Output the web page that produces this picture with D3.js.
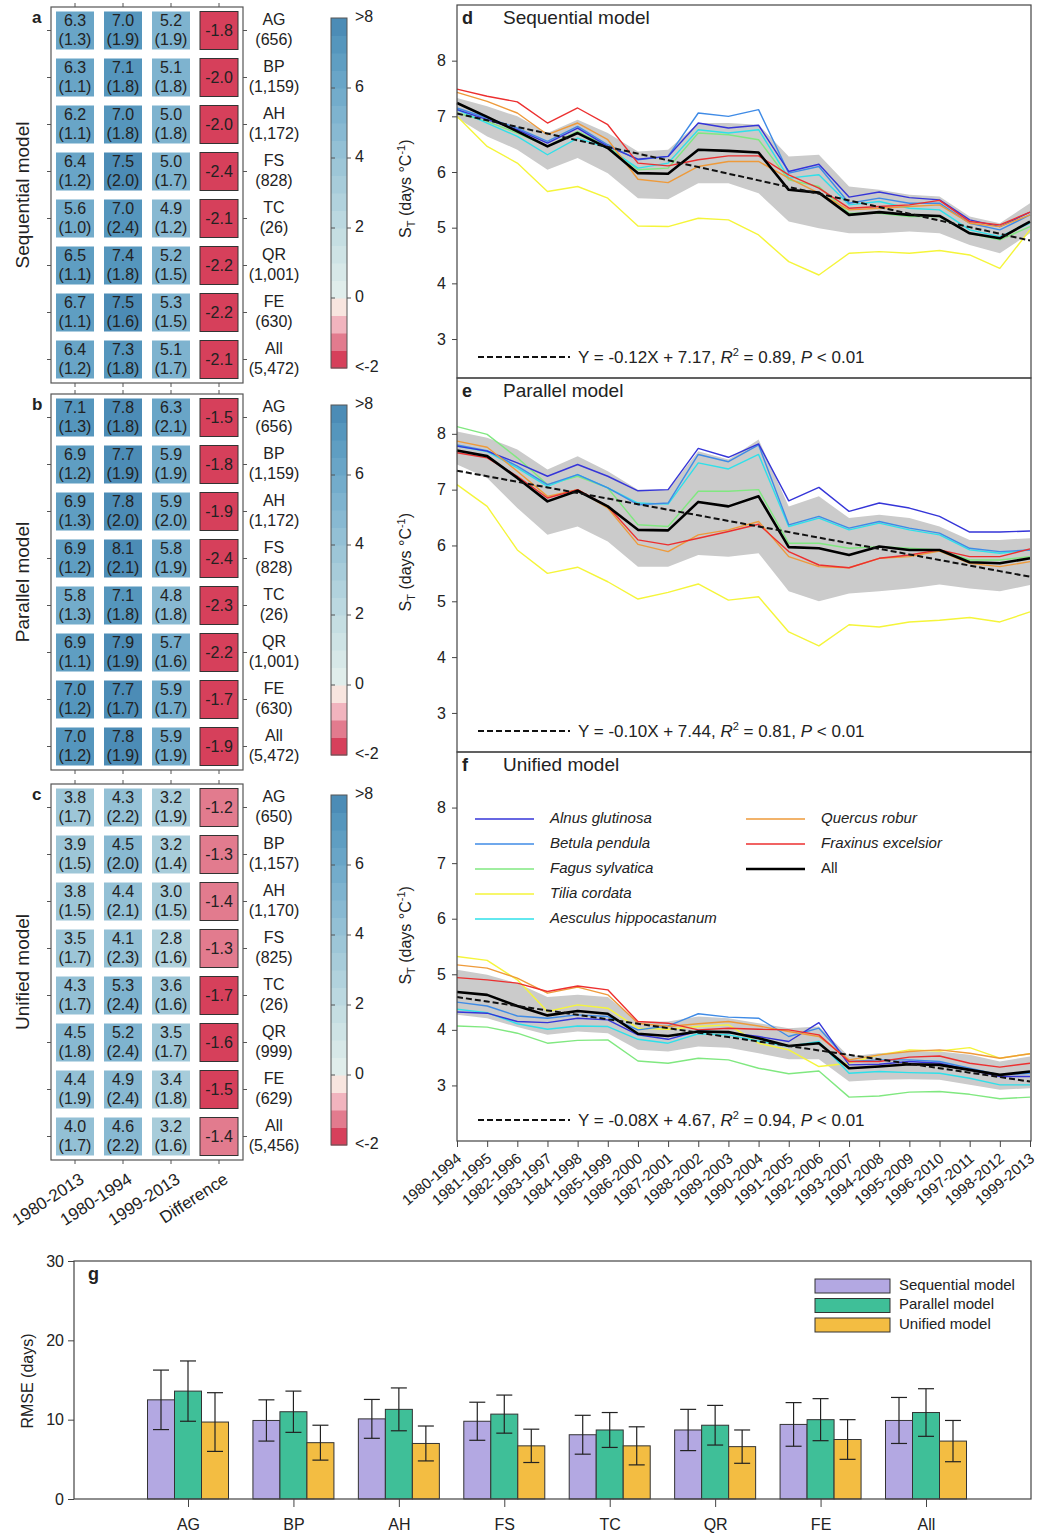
<!DOCTYPE html>
<html>
<head>
<meta charset="utf-8">
<script src="https://cdn.jsdelivr.net/npm/d3@7"></script>
<style>
  body { margin: 0; background: #fff; }
  svg { font-family: Arial, "Liberation Sans", sans-serif; }
</style>
</head>
<body>
<svg id="chart" width="1039" height="1536"></svg>
<script>
// ---------- data ----------
const sites = ["AG", "BP", "AH", "FS", "TC", "QR", "FE", "All"];
const columns = ["1980-2013", "1980-1994", "1999-2013", "Difference"];
const modelNames = ["Sequential model", "Parallel model", "Unified model"];

// panel a (sequential)
const seqMean = [[6.3, 7.0, 5.2], [6.3, 7.1, 5.1], [6.2, 7.0, 5.0], [6.4, 7.5, 5.0], [5.6, 7.0, 4.9], [6.5, 7.4, 5.2], [6.7, 7.5, 5.3], [6.4, 7.3, 5.1]];
const seqSd = [[1.3, 1.9, 1.9], [1.1, 1.8, 1.8], [1.1, 1.8, 1.8], [1.2, 2.0, 1.7], [1.0, 2.4, 1.2], [1.1, 1.8, 1.5], [1.1, 1.6, 1.5], [1.2, 1.8, 1.7]];
const seqDiff = [-1.8, -2.0, -2.0, -2.4, -2.1, -2.2, -2.2, -2.1];
const seqN = ["656", "1,159", "1,172", "828", "26", "1,001", "630", "5,472"];
// panel b (parallel)
const parMean = [[7.1, 7.8, 6.3], [6.9, 7.7, 5.9], [6.9, 7.8, 5.9], [6.9, 8.1, 5.8], [5.8, 7.1, 4.8], [6.9, 7.9, 5.7], [7.0, 7.7, 5.9], [7.0, 7.8, 5.9]];
const parSd = [[1.3, 1.8, 2.1], [1.2, 1.9, 1.9], [1.3, 2.0, 2.0], [1.2, 2.1, 1.9], [1.3, 1.8, 1.8], [1.1, 1.9, 1.6], [1.2, 1.7, 1.7], [1.2, 1.9, 1.9]];
const parDiff = [-1.5, -1.8, -1.9, -2.4, -2.3, -2.2, -1.7, -1.9];
const parN = ["656", "1,159", "1,172", "828", "26", "1,001", "630", "5,472"];
// panel c (unified)
const uniMean = [[3.8, 4.3, 3.2], [3.9, 4.5, 3.2], [3.8, 4.4, 3.0], [3.5, 4.1, 2.8], [4.3, 5.3, 3.6], [4.5, 5.2, 3.5], [4.4, 4.9, 3.4], [4.0, 4.6, 3.2]];
const uniSd = [[1.7, 2.2, 1.9], [1.5, 2.0, 1.4], [1.5, 2.1, 1.5], [1.7, 2.3, 1.6], [1.7, 2.4, 1.6], [1.8, 2.4, 1.7], [1.9, 2.4, 1.8], [1.7, 2.2, 1.6]];
const uniDiff = [-1.2, -1.3, -1.4, -1.3, -1.7, -1.6, -1.5, -1.4];
const uniN = ["650", "1,157", "1,170", "825", "26", "999", "629", "5,456"];

// panels d-f: 15-year moving windows
const windows = ["1980-1994", "1981-1995", "1982-1996", "1983-1997", "1984-1998", "1985-1999", "1986-2000",
  "1987-2001", "1988-2002", "1989-2003", "1990-2004", "1991-2005", "1992-2006", "1993-2007",
  "1994-2008", "1995-2009", "1996-2010", "1997-2011", "1998-2012", "1999-2013"];
const species = ["Alnus glutinosa", "Betula pendula", "Fagus sylvatica", "Tilia cordata",
  "Aesculus hippocastanum", "Quercus robur", "Fraxinus excelsior", "All"];
const speciesColors = ["#3535d8", "#3f8be6", "#80e880", "#f5f53a", "#2ee0ea", "#ee9a3a", "#ec2f2f", "#000000"];

// ST, sequential model (same order as species)
const seqLines = [
  [7.12, 6.94, 6.76, 6.52, 6.79, 6.46, 6.23, 6.28, 6.88, 6.79, 6.84, 6.01, 6.14, 5.55, 5.64, 5.54, 5.50, 5.14, 5.02, 5.28],
  [7.15, 6.97, 6.79, 6.55, 6.82, 6.49, 6.22, 6.28, 7.06, 7.00, 7.12, 5.98, 6.10, 5.44, 5.53, 5.44, 5.44, 5.08, 4.96, 5.23],
  [7.06, 6.91, 6.70, 6.46, 6.73, 6.46, 6.04, 6.07, 6.70, 6.67, 6.58, 5.86, 5.74, 5.26, 5.26, 5.20, 5.20, 4.90, 4.78, 5.02],
  [7.00, 6.46, 6.16, 5.65, 5.74, 5.53, 5.03, 5.02, 5.17, 5.14, 4.87, 4.39, 4.15, 4.54, 4.57, 4.54, 4.59, 4.51, 4.27, 4.96],
  [7.12, 6.88, 6.64, 6.31, 6.61, 6.43, 6.07, 6.16, 6.76, 6.70, 6.76, 5.89, 5.95, 5.41, 5.47, 5.35, 5.32, 4.96, 4.84, 5.08],
  [7.43, 7.27, 7.06, 6.67, 6.88, 6.58, 5.87, 5.81, 6.10, 6.19, 6.19, 5.89, 5.62, 5.32, 5.35, 5.38, 5.41, 5.08, 5.02, 5.23],
  [7.49, 7.36, 7.26, 6.88, 7.15, 6.85, 6.16, 6.11, 6.22, 6.29, 6.29, 5.95, 5.71, 5.35, 5.38, 5.41, 5.49, 5.11, 5.05, 5.28],
  [7.24, 6.99, 6.73, 6.46, 6.70, 6.43, 5.98, 5.97, 6.40, 6.38, 6.35, 5.68, 5.63, 5.23, 5.28, 5.23, 5.21, 4.90, 4.81, 5.11]
];
const seqBandHi = [7.33, 7.18, 7.00, 6.70, 6.94, 6.70, 6.37, 6.40, 6.88, 6.88, 6.85, 6.28, 6.31, 5.74, 5.68, 5.59, 5.56, 5.20, 5.08, 5.44];
const seqBandLo = [6.97, 6.64, 6.40, 6.04, 6.25, 5.98, 5.53, 5.51, 5.80, 5.80, 5.62, 5.11, 4.99, 4.90, 4.90, 4.93, 4.90, 4.69, 4.54, 4.90];

// ST, parallel model
const parLines = [
  [7.78, 7.69, 7.48, 7.24, 7.45, 7.24, 6.98, 7.00, 7.74, 7.58, 7.82, 6.80, 7.04, 6.61, 6.76, 6.67, 6.52, 6.24, 6.24, 6.26],
  [7.80, 7.70, 7.42, 7.09, 7.27, 7.03, 6.73, 6.76, 7.63, 7.50, 7.80, 6.37, 6.52, 6.31, 6.43, 6.31, 6.22, 5.95, 5.89, 5.92],
  [8.13, 7.99, 7.57, 7.09, 7.24, 7.03, 6.37, 6.34, 6.97, 6.97, 7.00, 6.04, 6.04, 5.95, 5.98, 5.95, 5.92, 5.74, 5.74, 5.80],
  [7.09, 6.70, 5.92, 5.50, 5.61, 5.35, 5.04, 5.16, 5.31, 5.02, 5.08, 4.45, 4.20, 4.58, 4.54, 4.63, 4.66, 4.71, 4.63, 4.81],
  [7.78, 7.68, 7.39, 7.06, 7.27, 7.03, 6.76, 6.74, 7.48, 7.37, 7.63, 6.34, 6.49, 6.28, 6.40, 6.28, 6.19, 5.92, 5.86, 5.92],
  [7.87, 7.76, 7.33, 6.88, 7.00, 6.67, 6.02, 5.89, 6.19, 6.28, 6.43, 5.80, 5.62, 5.60, 5.77, 5.80, 5.90, 5.68, 5.62, 5.71],
  [7.66, 7.57, 7.24, 6.85, 7.00, 6.70, 6.10, 6.01, 6.13, 6.25, 6.38, 5.89, 5.65, 5.60, 5.77, 5.83, 5.92, 5.80, 5.80, 5.94],
  [7.70, 7.60, 7.21, 6.79, 6.98, 6.70, 6.28, 6.27, 6.78, 6.70, 6.88, 5.97, 5.95, 5.83, 5.98, 5.92, 5.92, 5.70, 5.68, 5.77]
];
const parBandHi = [8.04, 7.93, 7.72, 7.36, 7.60, 7.33, 7.00, 7.00, 7.69, 7.54, 7.90, 6.70, 6.88, 6.49, 6.55, 6.49, 6.34, 6.10, 6.10, 6.13];
const parBandLo = [7.45, 7.21, 6.67, 6.19, 6.34, 6.07, 5.62, 5.62, 5.83, 5.80, 5.86, 5.18, 5.00, 5.14, 5.18, 5.23, 5.30, 5.23, 5.18, 5.29];

// ST, unified model
const uniLines = [
  [4.32, 4.30, 4.15, 4.13, 4.21, 4.18, 3.91, 3.83, 3.98, 3.95, 3.88, 3.79, 4.13, 3.37, 3.38, 3.43, 3.40, 3.28, 3.16, 3.16],
  [4.50, 4.43, 4.25, 4.21, 4.27, 4.24, 4.00, 4.07, 4.29, 4.23, 4.21, 3.88, 4.03, 3.43, 3.46, 3.46, 3.43, 3.31, 3.19, 3.22],
  [4.07, 4.05, 3.94, 3.76, 3.81, 3.82, 3.44, 3.40, 3.49, 3.46, 3.31, 3.21, 3.26, 2.79, 2.81, 2.88, 2.89, 2.84, 2.76, 2.79],
  [5.32, 5.25, 4.90, 4.33, 4.45, 4.39, 4.03, 4.01, 4.06, 4.09, 3.76, 3.64, 3.34, 3.40, 3.55, 3.64, 3.62, 3.68, 3.49, 3.57],
  [4.37, 4.31, 4.11, 4.01, 4.07, 4.06, 3.83, 3.76, 3.93, 3.91, 3.80, 3.70, 3.79, 3.22, 3.25, 3.23, 3.22, 3.13, 3.01, 3.01],
  [5.17, 5.11, 4.93, 4.66, 4.77, 4.63, 4.12, 4.06, 4.11, 4.15, 4.07, 3.97, 3.88, 3.46, 3.55, 3.61, 3.64, 3.58, 3.49, 3.57],
  [4.94, 4.90, 4.84, 4.69, 4.79, 4.72, 4.15, 4.12, 4.00, 4.03, 4.01, 4.00, 3.91, 3.43, 3.43, 3.51, 3.53, 3.40, 3.33, 3.40],
  [4.68, 4.63, 4.43, 4.26, 4.34, 4.29, 3.93, 3.89, 3.97, 3.96, 3.85, 3.71, 3.76, 3.31, 3.34, 3.38, 3.37, 3.28, 3.19, 3.25]
];
const uniBandHi = [5.08, 4.99, 4.84, 4.59, 4.63, 4.59, 4.15, 4.15, 4.24, 4.21, 4.12, 4.03, 4.06, 3.52, 3.58, 3.61, 3.61, 3.55, 3.43, 3.52];
const uniBandLo = [4.27, 4.21, 4.05, 3.91, 3.97, 3.94, 3.64, 3.61, 3.70, 3.68, 3.58, 3.47, 3.47, 3.07, 3.10, 3.11, 3.10, 3.01, 2.92, 2.95];

// printed regressions of the "All" line (X = window index 1..20)
const trendSlope = [-0.12, -0.10, -0.08];
const trendIntercept = [7.17, 7.44, 4.67];
const trendR2 = ["0.89", "0.81", "0.94"];

// panel g: RMSE (days), mean and sd
const rmseSeq = [12.5, 9.9, 10.1, 9.8, 8.1, 8.7, 9.4, 9.9];
const rmseSeqSd = [3.75, 2.6, 2.45, 2.4, 2.45, 2.6, 2.75, 2.9];
const rmsePar = [13.6, 11.0, 11.3, 10.7, 8.7, 9.3, 10.0, 10.9];
const rmseParSd = [3.8, 2.6, 2.7, 2.4, 2.2, 2.5, 2.65, 3.0];
const rmseUni = [9.7, 7.1, 7.0, 6.7, 6.7, 6.6, 7.5, 7.3];
const rmseUniSd = [3.7, 2.2, 2.2, 2.1, 2.4, 2.1, 2.5, 2.6];
const barColors = ["#b3a8e2", "#3fbf98", "#f3bd42"];

// ---------- drawing ----------
const svg = d3.select("#chart");
const ink = "#222";

// colour scale shared by heatmaps and colour bars (0.5-wide bands)
const blueRamp = d3.scaleLinear()
  .domain([0, 2, 4, 5, 6, 7, 8])
  .range(["#e4efec", "#c0dbe1", "#98c3d6", "#83b6d1", "#6ea8c9", "#5a9bc0", "#4787b3"]);
const redBands = ["#f8e5df", "#f1b4be", "#e27b8e", "#d6405b"];
function heatColor(v) {
  if (v < 0) return redBands[Math.min(3, Math.floor(-v / 0.5 + 1e-9))];
  const band = Math.min(15, Math.floor(v / 0.5));
  return blueRamp(band * 0.5 + 0.25);
}

const heatPanels = [
  { key: "a", top: 7, mean: seqMean, sd: seqSd, diff: seqDiff, n: seqN },
  { key: "b", top: 394, mean: parMean, sd: parSd, diff: parDiff, n: parN },
  { key: "c", top: 784, mean: uniMean, sd: uniSd, diff: uniDiff, n: uniN }
];

const xHeat = d3.scaleBand().domain(columns).range([51, 243]);
const cell = 38;

heatPanels.forEach((p, pi) => {
  const g = svg.append("g");
  const yHeat = d3.scaleBand().domain(sites).range([p.top, p.top + 376]);
  const cy = (s) => yHeat(s) + yHeat.bandwidth() / 2;
  const cx = (c) => xHeat(c) + xHeat.bandwidth() / 2;

  // value cells
  sites.forEach((s, i) => {
    p.mean[i].forEach((m, j) => {
      const col = columns[j];
      g.append("rect")
        .attr("x", cx(col) - cell / 2).attr("y", cy(s) - cell / 2)
        .attr("width", cell).attr("height", cell)
        .attr("fill", heatColor(m));
      g.append("text").attr("x", cx(col)).attr("y", cy(s) - 9)
        .attr("text-anchor", "middle").attr("dominant-baseline", "middle")
        .attr("font-size", 16).attr("fill", ink).text(m.toFixed(1));
      g.append("text").attr("x", cx(col)).attr("y", cy(s) + 10)
        .attr("text-anchor", "middle").attr("dominant-baseline", "middle")
        .attr("font-size", 16).attr("fill", ink).text(`(${p.sd[i][j].toFixed(1)})`);
    });
    const dcol = columns[3];
    g.append("rect")
      .attr("x", cx(dcol) - cell / 2).attr("y", cy(s) - cell / 2)
      .attr("width", cell).attr("height", cell)
      .attr("fill", heatColor(p.diff[i])).attr("stroke", "#333").attr("stroke-width", 1);
    g.append("text").attr("x", cx(dcol)).attr("y", cy(s) + 1)
      .attr("text-anchor", "middle").attr("dominant-baseline", "middle")
      .attr("font-size", 16).attr("fill", ink).text(p.diff[i].toFixed(1));

    // site labels
    g.append("text").attr("x", 274).attr("y", cy(s) - 10)
      .attr("text-anchor", "middle").attr("dominant-baseline", "middle")
      .attr("font-size", 16).attr("fill", ink).text(s);
    g.append("text").attr("x", 274).attr("y", cy(s) + 10)
      .attr("text-anchor", "middle").attr("dominant-baseline", "middle")
      .attr("font-size", 16).attr("fill", ink).text(`(${p.n[i]})`);
  });

  // frame with outward ticks
  const top = p.top, bot = p.top + 376;
  g.append("rect").attr("x", 51).attr("y", top).attr("width", 192).attr("height", 376)
    .attr("fill", "none").attr("stroke", "#555").attr("stroke-width", 1.2);
  sites.forEach(s => {
    g.append("line").attr("x1", 51).attr("x2", 47).attr("y1", cy(s)).attr("y2", cy(s)).attr("stroke", "#555");
    g.append("line").attr("x1", 243).attr("x2", 247).attr("y1", cy(s)).attr("y2", cy(s)).attr("stroke", "#555");
  });
  columns.forEach(c => {
    g.append("line").attr("x1", cx(c)).attr("x2", cx(c)).attr("y1", bot).attr("y2", bot + 4).attr("stroke", "#555");
    g.append("line").attr("x1", cx(c)).attr("x2", cx(c)).attr("y1", top).attr("y2", top - 4).attr("stroke", "#555");
  });

  // panel letter & model label
  g.append("text").attr("x", 32).attr("y", top + 16).attr("font-size", 17)
    .attr("font-weight", "bold").attr("fill", ink).text(p.key);
  g.append("text")
    .attr("transform", `translate(29,${(top + bot) / 2}) rotate(-90)`)
    .attr("text-anchor", "middle").attr("font-size", 19).attr("fill", ink)
    .text(modelNames[pi]);

  // colour bar
  const yBar = d3.scaleLinear().domain([-2, 8]).range([top + 361, top + 11]);
  const bands = d3.range(-2, 8, 0.5);
  g.selectAll(".cb").data(bands).enter().append("rect")
    .attr("x", 331).attr("width", 16)
    .attr("y", d => yBar(d + 0.5)).attr("height", d => yBar(d) - yBar(d + 0.5) + 0.5)
    .attr("fill", d => heatColor(d + 0.25));
  g.append("rect").attr("x", 331).attr("y", yBar(8)).attr("width", 16)
    .attr("height", yBar(-2) - yBar(8)).attr("fill", "none").attr("stroke", "#555");
  const barTicks = [8, 6, 4, 2, 0, -2];
  const barLabels = [">8", "6", "4", "2", "0", "<-2"];
  barTicks.forEach((t, k) => {
    if (k > 0 && k < barTicks.length - 1) {
      g.append("line").attr("x1", 347).attr("x2", 351).attr("y1", yBar(t)).attr("y2", yBar(t)).attr("stroke", "#555");
      g.append("line").attr("x1", 331).attr("x2", 335).attr("y1", yBar(t)).attr("y2", yBar(t)).attr("stroke", "#555");
    }
    g.append("text").attr("x", 355).attr("y", yBar(t)).attr("dominant-baseline", "middle")
      .attr("font-size", 16).attr("fill", ink).text(barLabels[k]);
  });

  // column labels under panel c
  if (pi === 2) {
    columns.forEach(c => {
      g.append("text")
        .attr("transform", `translate(${cx(c) + 7},${bot + 17}) rotate(-33)`)
        .attr("text-anchor", "end").attr("dy", "0.35em")
        .attr("font-size", 17).attr("fill", ink).text(c);
    });
  }
});

// ---------- line panels d-f ----------
const xLine = d3.scalePoint().domain(windows).range([457, 1030]);
const linePanels = [
  { key: "d", top: 5, bottom: 378, yMin: 2.3, lines: seqLines, hi: seqBandHi, lo: seqBandLo },
  { key: "e", top: 378, bottom: 752, yMin: 2.3, lines: parLines, hi: parBandHi, lo: parBandLo },
  { key: "f", top: 752, bottom: 1141, yMin: 2.0, lines: uniLines, hi: uniBandHi, lo: uniBandLo }
];
const drawOrder = [3, 2, 4, 1, 0, 5, 6, 7];

linePanels.forEach((p, pi) => {
  const g = svg.append("g");
  const y = d3.scaleLinear().domain([p.yMin, 9]).range([p.bottom, p.top]);

  const area = d3.area()
    .x((d, i) => xLine(windows[i]))
    .y0((d, i) => y(p.lo[i]))
    .y1(d => y(d));
  g.append("path").datum(p.hi).attr("d", area).attr("fill", "#cbcbcb");

  const line = d3.line().x((d, i) => xLine(windows[i])).y(d => y(d));
  drawOrder.forEach(k => {
    g.append("path").datum(p.lines[k]).attr("d", line)
      .attr("fill", "none").attr("stroke", speciesColors[k])
      .attr("stroke-width", k === 7 ? 2.6 : 1.4).attr("stroke-linejoin", "round");
  });

  // regression line
  const trend = windows.map((w, i) => trendSlope[pi] * (i + 1) + trendIntercept[pi]);
  g.append("path").datum(trend).attr("d", line).attr("fill", "none")
    .attr("stroke", "#111").attr("stroke-width", 2).attr("stroke-dasharray", "6,3");

  // y axis
  const yAxis = g.append("g").attr("transform", "translate(457,0)")
    .call(d3.axisLeft(y).tickValues([3, 4, 5, 6, 7, 8]).tickSize(5).tickPadding(6).tickFormat(d3.format("d")));
  yAxis.select(".domain").remove();
  yAxis.selectAll("text").attr("font-size", 16).attr("fill", ink).attr("font-family", null);
  yAxis.selectAll("line").attr("stroke", "#444");

  // frame
  g.append("rect").attr("x", 457).attr("y", p.top).attr("width", 574).attr("height", p.bottom - p.top)
    .attr("fill", "none").attr("stroke", "#444").attr("stroke-width", 1.2);

  // title
  g.append("text").attr("x", 462).attr("y", p.top + 19).attr("font-size", 18)
    .attr("font-weight", "bold").attr("fill", ink).text(p.key);
  g.append("text").attr("x", 503).attr("y", p.top + 19).attr("font-size", 19)
    .attr("fill", ink).text(modelNames[pi]);

  // y label
  const mid = y(5.7);
  const lab = g.append("text")
    .attr("transform", `translate(411,${mid}) rotate(-90)`)
    .attr("text-anchor", "middle").attr("font-size", 16).attr("fill", ink);
  lab.append("tspan").text("S");
  lab.append("tspan").attr("font-size", 11).attr("dy", 4).text("T");
  lab.append("tspan").attr("dy", -4).text(" (days °C");
  lab.append("tspan").attr("font-size", 11).attr("dy", -6).text("-1");
  lab.append("tspan").attr("dy", 6).text(")");

  // equation legend
  const ey = p.bottom - 21;
  g.append("line").attr("x1", 478).attr("x2", 570).attr("y1", ey).attr("y2", ey)
    .attr("stroke", "#111").attr("stroke-width", 2).attr("stroke-dasharray", "6,3");
  const eq = g.append("text").attr("x", 578).attr("y", ey + 6).attr("font-size", 17).attr("fill", ink);
  eq.append("tspan").text(`Y = ${trendSlope[pi].toFixed(2)}X + ${trendIntercept[pi].toFixed(2)}, `);
  eq.append("tspan").attr("font-style", "italic").text("R");
  eq.append("tspan").attr("font-size", 11).attr("dy", -7).text("2");
  eq.append("tspan").attr("dy", 7).text(` = ${trendR2[pi]}, `);
  eq.append("tspan").attr("font-style", "italic").text("P");
  eq.append("tspan").text(" < 0.01");

  // x axis under f
  if (pi === 2) {
    const xAxis = g.append("g").attr("transform", `translate(0,${p.bottom})`)
      .call(d3.axisBottom(xLine).tickSize(6).tickFormat(""));
    xAxis.select(".domain").remove();
    xAxis.selectAll("line").attr("stroke", "#444");
    windows.forEach(w => {
      g.append("text")
        .attr("transform", `translate(${xLine(w) + 2},${p.bottom + 15}) rotate(-40)`)
        .attr("text-anchor", "end").attr("dy", "0.35em")
        .attr("font-size", 15).attr("fill", ink).text(w);
    });

    // species legend
    const legCols = [[0, 1, 2, 3, 4], [5, 6, 7]];
    legCols.forEach((col, ci) => {
      col.forEach((k, r) => {
        const lx = ci === 0 ? 475 : 746;
        const ly = 819 + r * 25;
        g.append("line").attr("x1", lx).attr("x2", lx + 59).attr("y1", ly).attr("y2", ly)
          .attr("stroke", speciesColors[k]).attr("stroke-width", k === 7 ? 2.6 : 1.4);
        g.append("text").attr("x", lx + 75).attr("y", ly).attr("dominant-baseline", "middle")
          .attr("font-size", 15).attr("font-style", k === 7 ? "normal" : "italic")
          .attr("fill", ink).text(species[k]);
      });
    });
  }
});

// ---------- panel g ----------
const gx0 = 74, gx1 = 1031, gy0 = 1261, gy1 = 1499;
const gG = svg.append("g");
const xCat = d3.scalePoint().domain(sites).range([188, 926]);
const xSub = d3.scaleBand().domain([0, 1, 2]).range([-40.5, 40.5]);
const yR = d3.scaleLinear().domain([0, 30]).range([gy1, gy0]);
const rmse = [rmseSeq, rmsePar, rmseUni];
const rmseSd = [rmseSeqSd, rmseParSd, rmseUniSd];

rmse.forEach((vals, m) => {
  gG.selectAll(`.bar${m}`).data(vals).enter().append("rect")
    .attr("x", (d, i) => xCat(sites[i]) + xSub(m))
    .attr("width", xSub.bandwidth())
    .attr("y", d => yR(d)).attr("height", d => yR(0) - yR(d))
    .attr("fill", barColors[m]).attr("stroke", "#333").attr("stroke-width", 1);
});
rmse.forEach((vals, m) => {
  vals.forEach((v, i) => {
    const cxm = xCat(sites[i]) + xSub(m) + xSub.bandwidth() / 2;
    const hi = yR(v + rmseSd[m][i]), lo = yR(v - rmseSd[m][i]);
    gG.append("line").attr("x1", cxm).attr("x2", cxm).attr("y1", hi).attr("y2", lo).attr("stroke", "#222").attr("stroke-width", 1.2);
    [hi, lo].forEach(yy => gG.append("line").attr("x1", cxm - 8).attr("x2", cxm + 8)
      .attr("y1", yy).attr("y2", yy).attr("stroke", "#222").attr("stroke-width", 1.2));
  });
});

gG.append("rect").attr("x", gx0).attr("y", gy0).attr("width", gx1 - gx0).attr("height", gy1 - gy0)
  .attr("fill", "none").attr("stroke", "#444").attr("stroke-width", 1.2);

const yAx = gG.append("g").attr("transform", `translate(${gx0},0)`)
  .call(d3.axisLeft(yR).tickValues([0, 10, 20, 30]).tickSize(6).tickPadding(4));
yAx.select(".domain").remove();
yAx.selectAll("text").attr("font-size", 16).attr("fill", ink).attr("font-family", null);
yAx.selectAll("line").attr("stroke", "#444");

const xAx = gG.append("g").attr("transform", `translate(0,${gy1})`)
  .call(d3.axisBottom(xCat).tickSize(8).tickPadding(12));
xAx.select(".domain").remove();
xAx.selectAll("text").attr("font-size", 16).attr("fill", ink).attr("font-family", null);
xAx.selectAll("line").attr("stroke", "#444");

gG.append("text").attr("x", 88).attr("y", 1280).attr("font-size", 18)
  .attr("font-weight", "bold").attr("fill", ink).text("g");
gG.append("text").attr("transform", `translate(33,${(gy0 + gy1) / 2 + 1}) rotate(-90)`)
  .attr("text-anchor", "middle").attr("font-size", 16).attr("fill", ink).text("RMSE (days)");

modelNames.forEach((name, m) => {
  const ly = 1279 + m * 19.5;
  gG.append("rect").attr("x", 815).attr("y", ly).attr("width", 75).attr("height", 14)
    .attr("fill", barColors[m]).attr("stroke", "#333");
  gG.append("text").attr("x", 899).attr("y", ly + 7).attr("dominant-baseline", "middle")
    .attr("font-size", 15).attr("fill", ink).text(name);
});
</script>
</body>
</html>
